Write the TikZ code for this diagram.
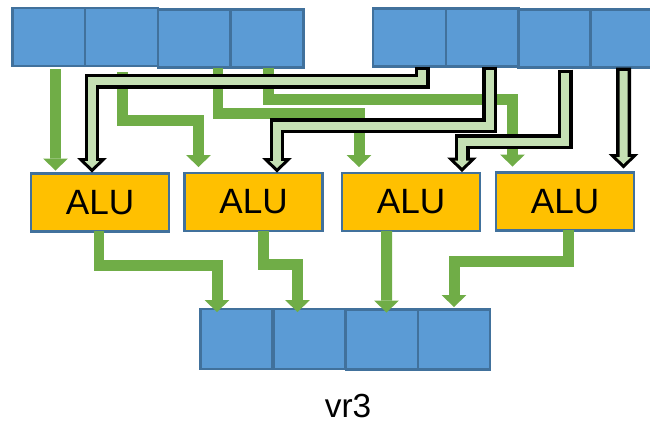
\documentclass[tikz,border=0pt]{standalone}
\usepackage{fontspec}
\setmainfont{Liberation Sans}
\usepackage{xcolor}
\usepackage{tikz}
\usetikzlibrary{arrows.meta,positioning,calc}

\definecolor{regfill}{HTML}{5B9BD5}
\definecolor{regedge}{HTML}{41719C}
\definecolor{alufill}{HTML}{FFC000}
\definecolor{wiregreen}{HTML}{70AD47}
\definecolor{busfill}{HTML}{C5E0B4}

\begin{document}
\begin{tikzpicture}[
    x=0.02cm, y=-0.02cm,
    cell/.style={draw=regedge, fill=regfill, line width=0.05cm, inner sep=0pt, outer sep=0pt,
      minimum width=1.46cm, minimum height=1.17cm},
    alubox/.style={draw=regedge, fill=alufill, line width=0.05cm, inner sep=0pt, outer sep=0pt,
      minimum width=2.76cm, minimum height=1.16cm, font=\fontsize{20}{24}\selectfont},
    wire/.style={draw=wiregreen, line width=0.22cm,
      -{Triangle[width=0.5cm, length=0.24cm, line width=0pt]}},
    bus/.style={draw=black, line width=0.3cm,
      -{Triangle[width=0.6cm, length=0.29cm, line width=0pt]},
      postaction={draw=busfill, line width=0.16cm, shorten <=0.07cm, shorten >=0.09cm,
        -{Triangle[width=0.3cm, length=0.14cm, line width=0pt]}}}
  ]
    \useasboundingbox (0,0) rectangle (650,422);
    \clip (0,0) rectangle (650,422);

    % Source registers
    \node[cell] (vra1) at (49,   37)   {};
    \node[cell] (vra2) at (121.5,37)   {};
    \node[cell] (vra3) at (194.5,38.5) {};
    \node[cell] (vra4) at (267,  38.5) {};

    \node[cell] (vrb1) at (409.5,37.5) {};
    \node[cell] (vrb2) at (482.5,37.5) {};
    \node[cell] (vrb3) at (555,  38.5) {};
    \node[cell] (vrb4) at (627,  38.5) {};

    % ALUs
    \node[alubox] (alu1) at (100,  202.5) {ALU};
    \node[alubox] (alu2) at (253.5,202)   {ALU};
    \node[alubox] (alu3) at (411,  202)   {ALU};
    \node[alubox] (alu4) at (565,  201.5) {ALU};

    % Result register
    \node[cell, minimum width=1.45cm, minimum height=1.2cm] (vrc1) at (236.5,339)   {};
    \node[cell, minimum width=1.45cm, minimum height=1.2cm] (vrc2) at (309.5,339)   {};
    \node[cell, minimum width=1.45cm, minimum height=1.2cm] (vrc3) at (382,  339.5) {};
    \node[cell, minimum width=1.45cm, minimum height=1.2cm] (vrc4) at (454,  339.5) {};
    \node[font=\fontsize{19}{23}\selectfont] (vrlabel) at (348,406) {vr3};

    % First operands
    \draw[wire] ($(vra1.south)+(6.5,3)$) -- ($(alu1.north)+(-44.5,-3)$);
    \draw[wire] ($(vra2.south)+(1,6)$) -- ++(0,48) -| ($(alu2.north)+(-55,-6)$);
    \draw[wire] ($(vra3.south)+(23.5,0)$) -- ++(0,46.25) -| ($(alu3.north)+(-52,-6)$);
    \draw[wire] ($(vra4.south)+(1.5,0)$) -- ++(0,32.25) -| ($(alu4.north)+(-52.5,-6)$);

    % Second operands
    \draw[bus] ($(vrb1.south)+(12.5,0)$) -- ++(0,14.5) -| ($(alu1.north)+(-8,-1)$);
    \draw[bus] ($(vrb2.south)+(7,0)$) -- ++(0,59) -| ($(alu2.north)+(23.5,-0.5)$);
    \draw[bus] ($(vrb3.south)+(10,2)$) -- ++(0,72) -| ($(alu3.north)+(51,-1)$);
    \draw[bus] ($(vrb4.south)+(-3.5,0)$) -- ($(alu4.north)+(58.5,-4)$);

    % Results
    \draw[wire] ($(alu1.south)+(-1,0)$) -- ++(0,34) -| ($(vrc1.north)+(-19.5,3)$);
    \draw[wire] ($(alu2.south)+(10,0)$) -- ++(0,34) -| ($(vrc2.north)+(-12,3)$);
    \draw[wire] ($(alu3.south)+(-24.5,0)$) -- ($(vrc3.north)+(4.5,3)$);
    \draw[wire] ($(alu4.south)+(3.5,0)$) -- ++(0,31) -| ($(vrc4.north)+(0,-2.5)$);
\end{tikzpicture}
\end{document}
